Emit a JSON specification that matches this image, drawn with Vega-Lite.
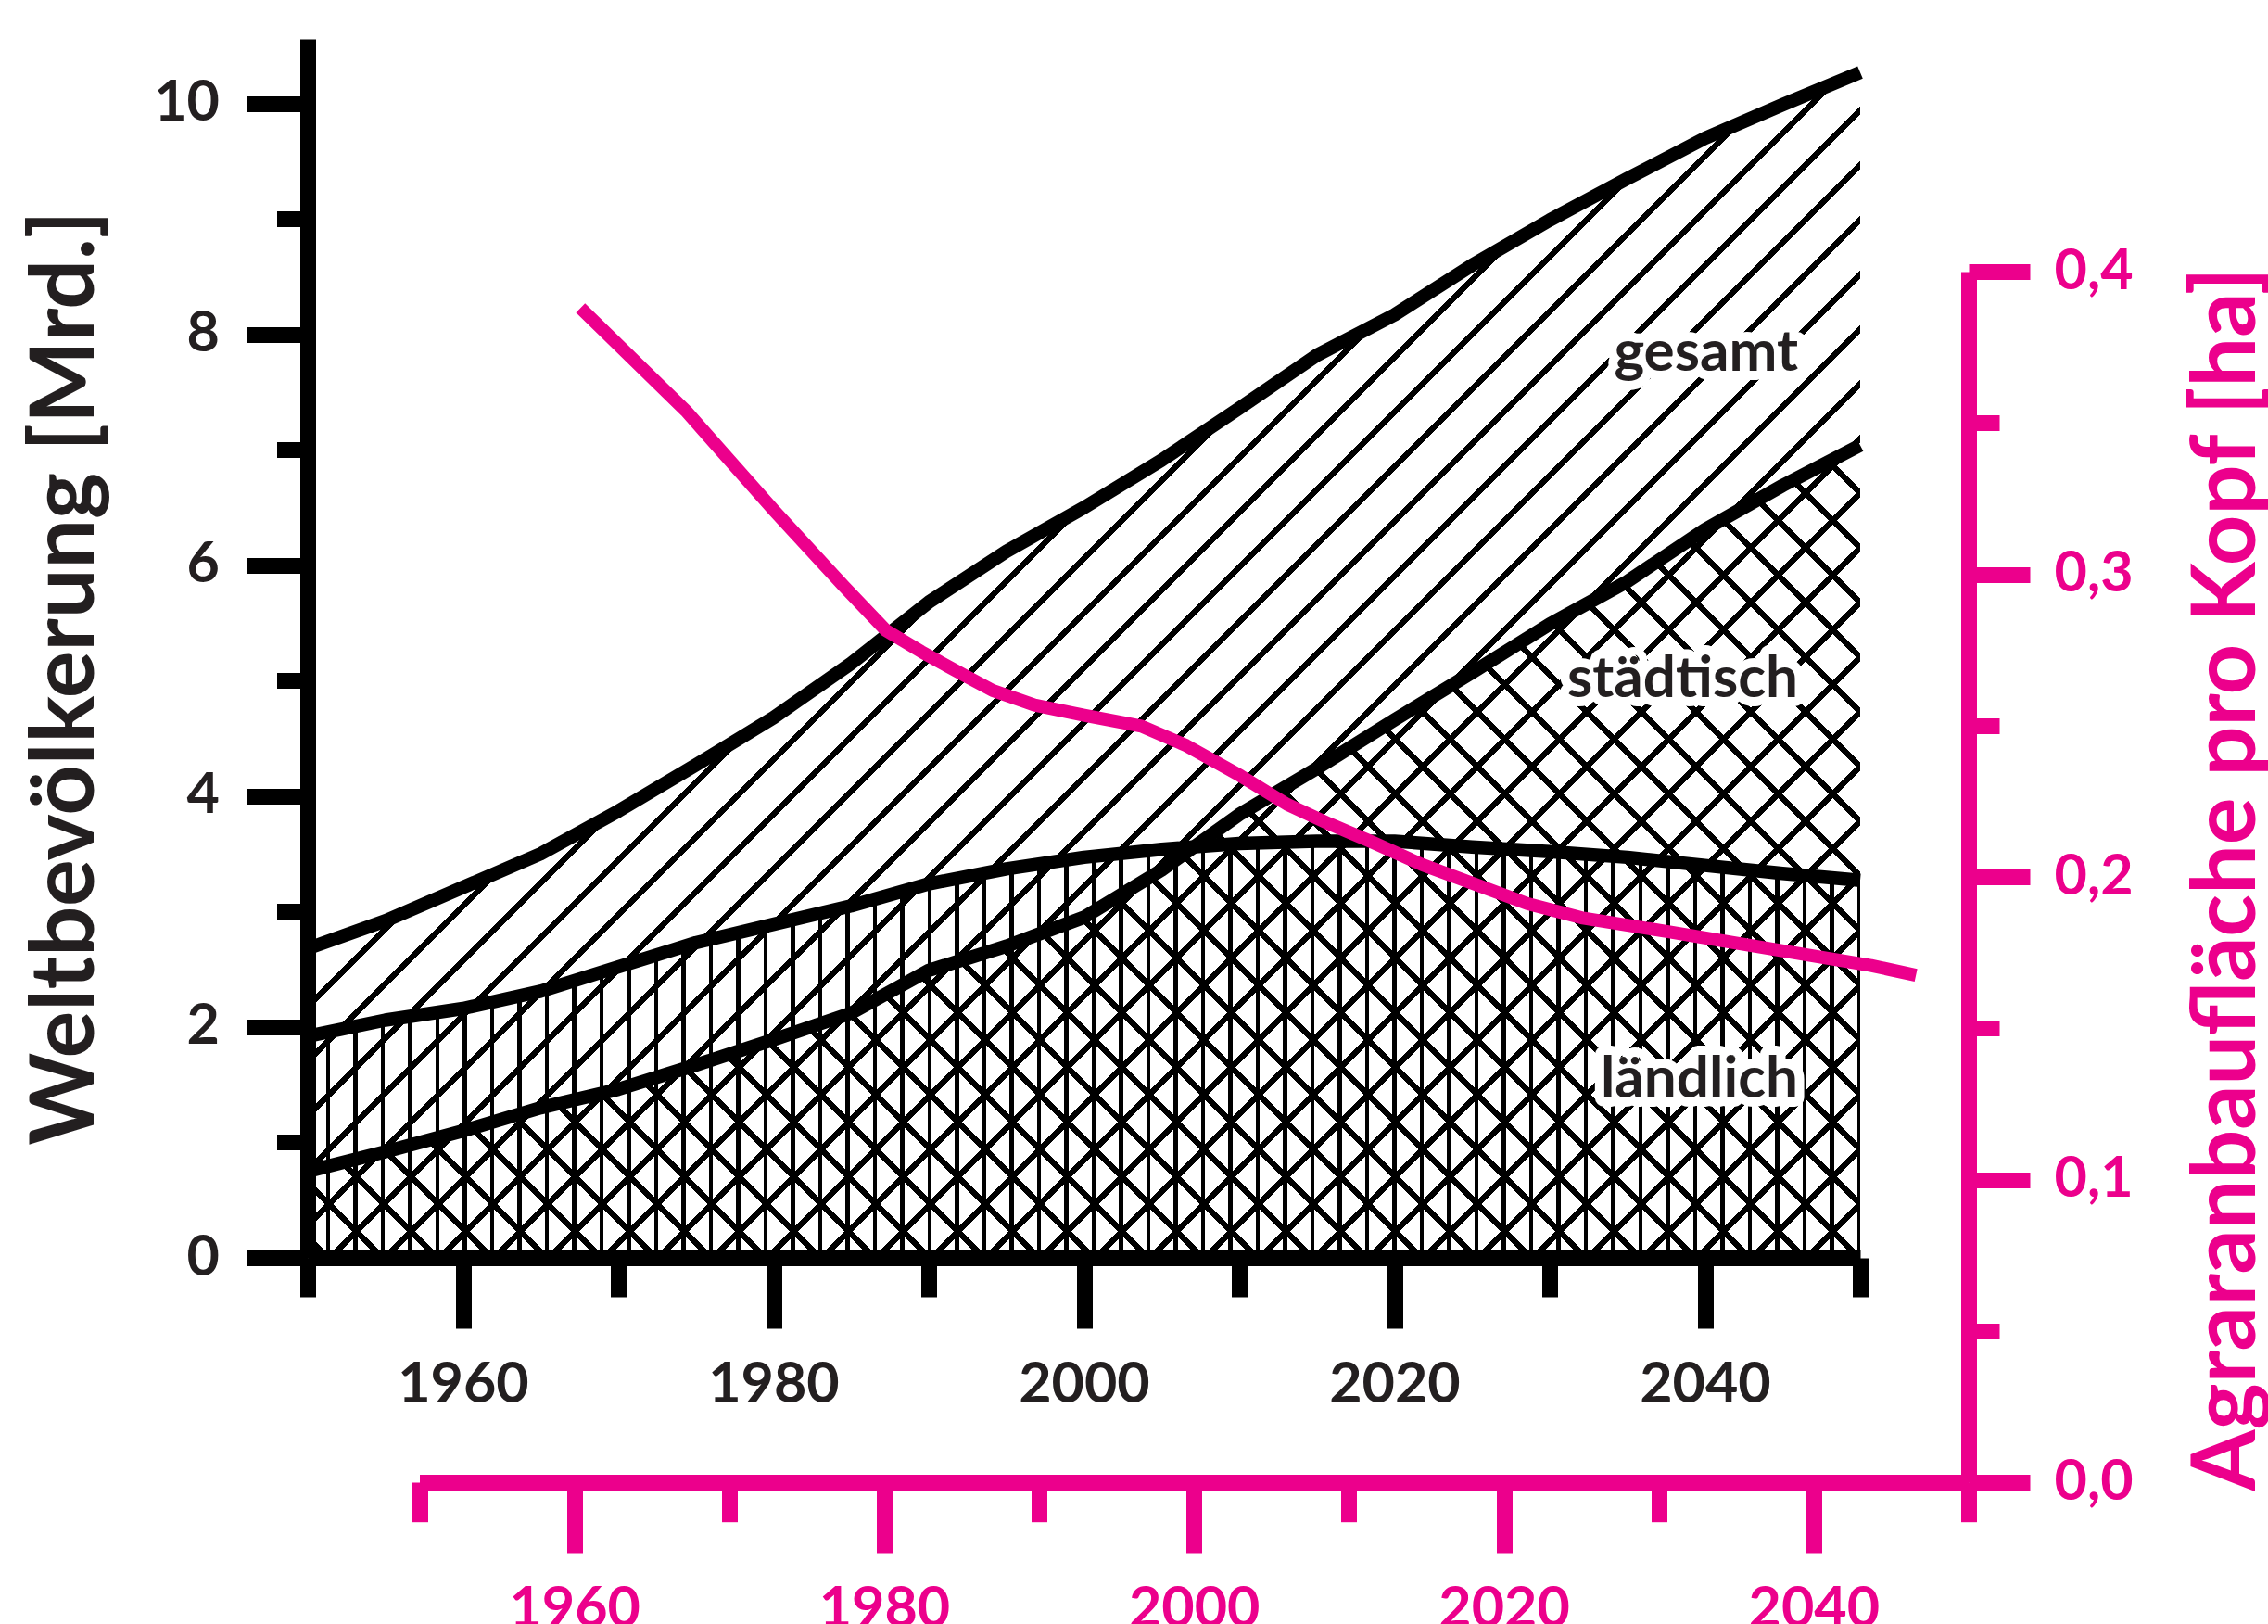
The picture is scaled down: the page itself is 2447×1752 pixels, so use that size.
{
  "$schema": "https://vega.github.io/schema/vega-lite/v6.json",
  "width": 1792,
  "height": 1557,
  "autosize": {"type": "none"},
  "padding": {"left": 332, "top": 42, "right": 323, "bottom": 153},
  "background": "white",
  "config": {
    "view": {"stroke": null},
    "axis": {"grid": false, "labelFont": "Lato", "titleFont": "Lato", "labelFontWeight": "bold", "titleFontWeight": "bold", "labelOverlap": false, "labelFlush": false, "labelBound": false, "zindex": 1, "tickCap": "butt", "domainCap": "butt"}
  },
  "datasets": {
    "pop": [
      {"year": 1950, "gesamt": 2.68, "staedtisch": 0.75, "laendlich": 1.92},
      {"year": 1955, "gesamt": 2.92, "staedtisch": 0.92, "laendlich": 2.06},
      {"year": 1960, "gesamt": 3.21, "staedtisch": 1.10, "laendlich": 2.16},
      {"year": 1965, "gesamt": 3.50, "staedtisch": 1.30, "laendlich": 2.31},
      {"year": 1970, "gesamt": 3.87, "staedtisch": 1.46, "laendlich": 2.52},
      {"year": 1975, "gesamt": 4.27, "staedtisch": 1.67, "laendlich": 2.73},
      {"year": 1980, "gesamt": 4.68, "staedtisch": 1.89, "laendlich": 2.89},
      {"year": 1985, "gesamt": 5.15, "staedtisch": 2.12, "laendlich": 3.05},
      {"year": 1990, "gesamt": 5.68, "staedtisch": 2.49, "laendlich": 3.24},
      {"year": 1995, "gesamt": 6.12, "staedtisch": 2.70, "laendlich": 3.37},
      {"year": 2000, "gesamt": 6.50, "staedtisch": 2.95, "laendlich": 3.47},
      {"year": 2005, "gesamt": 6.91, "staedtisch": 3.36, "laendlich": 3.54},
      {"year": 2010, "gesamt": 7.36, "staedtisch": 3.84, "laendlich": 3.59},
      {"year": 2015, "gesamt": 7.82, "staedtisch": 4.24, "laendlich": 3.61},
      {"year": 2020, "gesamt": 8.17, "staedtisch": 4.66, "laendlich": 3.61},
      {"year": 2025, "gesamt": 8.60, "staedtisch": 5.07, "laendlich": 3.56},
      {"year": 2030, "gesamt": 8.99, "staedtisch": 5.49, "laendlich": 3.52},
      {"year": 2035, "gesamt": 9.35, "staedtisch": 5.86, "laendlich": 3.47},
      {"year": 2040, "gesamt": 9.70, "staedtisch": 6.31, "laendlich": 3.40},
      {"year": 2045, "gesamt": 9.99, "staedtisch": 6.69, "laendlich": 3.33},
      {"year": 2050, "gesamt": 10.27, "staedtisch": 7.04, "laendlich": 3.27}
    ],
    "agrar": [
      {"year": 1960.4, "ha": 0.388},
      {"year": 1967.2, "ha": 0.354},
      {"year": 1972.9, "ha": 0.321},
      {"year": 1977.4, "ha": 0.296},
      {"year": 1980.1, "ha": 0.2815},
      {"year": 1982.4, "ha": 0.2744},
      {"year": 1985.1, "ha": 0.2668},
      {"year": 1987.0, "ha": 0.2616},
      {"year": 1989.7, "ha": 0.2568},
      {"year": 1992.9, "ha": 0.2534},
      {"year": 1996.6, "ha": 0.2498},
      {"year": 1999.5, "ha": 0.2434},
      {"year": 2003.0, "ha": 0.2334},
      {"year": 2006.0, "ha": 0.2240},
      {"year": 2008.7, "ha": 0.2176},
      {"year": 2011.4, "ha": 0.2117},
      {"year": 2014.7, "ha": 0.2041},
      {"year": 2021.5, "ha": 0.1912},
      {"year": 2025.0, "ha": 0.1865},
      {"year": 2030.7, "ha": 0.1818},
      {"year": 2037.5, "ha": 0.1760},
      {"year": 2043.7, "ha": 0.1707},
      {"year": 2046.6, "ha": 0.1675}
    ],
    "labels": [
      {"label": "gesamt", "year": 2046, "v": 7.685},
      {"label": "städtisch", "year": 2046, "v": 4.858},
      {"label": "ländlich", "year": 2046, "v": 1.386}
    ]
  },
  "layer": [
    {
      "data": {"name": "pop"},
      "encoding": {
        "x": {"field": "year", "type": "quantitative",
          "scale": {"domain": [1950, 2050], "range": [0, 1675], "nice": false, "zero": false},
          "axis": null}
      },
      "layer": [
        {
          "mark": {"type": "area", "interpolate": "linear", "fill": {"gradient": "linear", "x1": 0, "y1": 0, "x2": 1.112599, "y2": 0.849487, "stops": [
            {"offset":0,"color":"#000"},{"offset":0.0032,"color":"#000"},{"offset":0.0032,"color":"transparent"},{"offset":0.02,"color":"transparent"},
            {"offset":0.02,"color":"#000"},{"offset":0.0232,"color":"#000"},{"offset":0.0232,"color":"transparent"},{"offset":0.04,"color":"transparent"},
            {"offset":0.04,"color":"#000"},{"offset":0.0432,"color":"#000"},{"offset":0.0432,"color":"transparent"},{"offset":0.06,"color":"transparent"},
            {"offset":0.06,"color":"#000"},{"offset":0.0632,"color":"#000"},{"offset":0.0632,"color":"transparent"},{"offset":0.08,"color":"transparent"},
            {"offset":0.08,"color":"#000"},{"offset":0.0832,"color":"#000"},{"offset":0.0832,"color":"transparent"},{"offset":0.1,"color":"transparent"},
            {"offset":0.1,"color":"#000"},{"offset":0.1032,"color":"#000"},{"offset":0.1032,"color":"transparent"},{"offset":0.12,"color":"transparent"},
            {"offset":0.12,"color":"#000"},{"offset":0.1232,"color":"#000"},{"offset":0.1232,"color":"transparent"},{"offset":0.14,"color":"transparent"},
            {"offset":0.14,"color":"#000"},{"offset":0.1432,"color":"#000"},{"offset":0.1432,"color":"transparent"},{"offset":0.16,"color":"transparent"},
            {"offset":0.16,"color":"#000"},{"offset":0.1632,"color":"#000"},{"offset":0.1632,"color":"transparent"},{"offset":0.18,"color":"transparent"},
            {"offset":0.18,"color":"#000"},{"offset":0.1832,"color":"#000"},{"offset":0.1832,"color":"transparent"},{"offset":0.2,"color":"transparent"},
            {"offset":0.2,"color":"#000"},{"offset":0.2032,"color":"#000"},{"offset":0.2032,"color":"transparent"},{"offset":0.22,"color":"transparent"},
            {"offset":0.22,"color":"#000"},{"offset":0.2232,"color":"#000"},{"offset":0.2232,"color":"transparent"},{"offset":0.24,"color":"transparent"},
            {"offset":0.24,"color":"#000"},{"offset":0.2432,"color":"#000"},{"offset":0.2432,"color":"transparent"},{"offset":0.26,"color":"transparent"},
            {"offset":0.26,"color":"#000"},{"offset":0.2632,"color":"#000"},{"offset":0.2632,"color":"transparent"},{"offset":0.28,"color":"transparent"},
            {"offset":0.28,"color":"#000"},{"offset":0.2832,"color":"#000"},{"offset":0.2832,"color":"transparent"},{"offset":0.3,"color":"transparent"},
            {"offset":0.3,"color":"#000"},{"offset":0.3032,"color":"#000"},{"offset":0.3032,"color":"transparent"},{"offset":0.32,"color":"transparent"},
            {"offset":0.32,"color":"#000"},{"offset":0.3232,"color":"#000"},{"offset":0.3232,"color":"transparent"},{"offset":0.34,"color":"transparent"},
            {"offset":0.34,"color":"#000"},{"offset":0.3432,"color":"#000"},{"offset":0.3432,"color":"transparent"},{"offset":0.36,"color":"transparent"},
            {"offset":0.36,"color":"#000"},{"offset":0.3632,"color":"#000"},{"offset":0.3632,"color":"transparent"},{"offset":0.38,"color":"transparent"},
            {"offset":0.38,"color":"#000"},{"offset":0.3832,"color":"#000"},{"offset":0.3832,"color":"transparent"},{"offset":0.4,"color":"transparent"},
            {"offset":0.4,"color":"#000"},{"offset":0.4032,"color":"#000"},{"offset":0.4032,"color":"transparent"},{"offset":0.42,"color":"transparent"},
            {"offset":0.42,"color":"#000"},{"offset":0.4232,"color":"#000"},{"offset":0.4232,"color":"transparent"},{"offset":0.44,"color":"transparent"},
            {"offset":0.44,"color":"#000"},{"offset":0.4432,"color":"#000"},{"offset":0.4432,"color":"transparent"},{"offset":0.46,"color":"transparent"},
            {"offset":0.46,"color":"#000"},{"offset":0.4632,"color":"#000"},{"offset":0.4632,"color":"transparent"},{"offset":0.48,"color":"transparent"},
            {"offset":0.48,"color":"#000"},{"offset":0.4832,"color":"#000"},{"offset":0.4832,"color":"transparent"},{"offset":0.5,"color":"transparent"},
            {"offset":0.5,"color":"#000"},{"offset":0.5032,"color":"#000"},{"offset":0.5032,"color":"transparent"},{"offset":0.52,"color":"transparent"},
            {"offset":0.52,"color":"#000"},{"offset":0.5232,"color":"#000"},{"offset":0.5232,"color":"transparent"},{"offset":0.54,"color":"transparent"},
            {"offset":0.54,"color":"#000"},{"offset":0.5432,"color":"#000"},{"offset":0.5432,"color":"transparent"},{"offset":0.56,"color":"transparent"},
            {"offset":0.56,"color":"#000"},{"offset":0.5632,"color":"#000"},{"offset":0.5632,"color":"transparent"},{"offset":0.58,"color":"transparent"},
            {"offset":0.58,"color":"#000"},{"offset":0.5832,"color":"#000"},{"offset":0.5832,"color":"transparent"},{"offset":0.6,"color":"transparent"},
            {"offset":0.6,"color":"#000"},{"offset":0.6032,"color":"#000"},{"offset":0.6032,"color":"transparent"},{"offset":0.62,"color":"transparent"},
            {"offset":0.62,"color":"#000"},{"offset":0.6232,"color":"#000"},{"offset":0.6232,"color":"transparent"},{"offset":0.64,"color":"transparent"},
            {"offset":0.64,"color":"#000"},{"offset":0.6432,"color":"#000"},{"offset":0.6432,"color":"transparent"},{"offset":0.66,"color":"transparent"},
            {"offset":0.66,"color":"#000"},{"offset":0.6632,"color":"#000"},{"offset":0.6632,"color":"transparent"},{"offset":0.68,"color":"transparent"},
            {"offset":0.68,"color":"#000"},{"offset":0.6832,"color":"#000"},{"offset":0.6832,"color":"transparent"},{"offset":0.7,"color":"transparent"},
            {"offset":0.7,"color":"#000"},{"offset":0.7032,"color":"#000"},{"offset":0.7032,"color":"transparent"},{"offset":0.72,"color":"transparent"},
            {"offset":0.72,"color":"#000"},{"offset":0.7232,"color":"#000"},{"offset":0.7232,"color":"transparent"},{"offset":0.74,"color":"transparent"},
            {"offset":0.74,"color":"#000"},{"offset":0.7432,"color":"#000"},{"offset":0.7432,"color":"transparent"},{"offset":0.76,"color":"transparent"},
            {"offset":0.76,"color":"#000"},{"offset":0.7632,"color":"#000"},{"offset":0.7632,"color":"transparent"},{"offset":0.78,"color":"transparent"},
            {"offset":0.78,"color":"#000"},{"offset":0.7832,"color":"#000"},{"offset":0.7832,"color":"transparent"},{"offset":0.8,"color":"transparent"},
            {"offset":0.8,"color":"#000"},{"offset":0.8032,"color":"#000"},{"offset":0.8032,"color":"transparent"},{"offset":0.82,"color":"transparent"},
            {"offset":0.82,"color":"#000"},{"offset":0.8232,"color":"#000"},{"offset":0.8232,"color":"transparent"},{"offset":0.84,"color":"transparent"},
            {"offset":0.84,"color":"#000"},{"offset":0.8432,"color":"#000"},{"offset":0.8432,"color":"transparent"},{"offset":0.86,"color":"transparent"},
            {"offset":0.86,"color":"#000"},{"offset":0.8632,"color":"#000"},{"offset":0.8632,"color":"transparent"},{"offset":0.88,"color":"transparent"},
            {"offset":0.88,"color":"#000"},{"offset":0.8832,"color":"#000"},{"offset":0.8832,"color":"transparent"},{"offset":0.9,"color":"transparent"},
            {"offset":0.9,"color":"#000"},{"offset":0.9032,"color":"#000"},{"offset":0.9032,"color":"transparent"},{"offset":0.92,"color":"transparent"},
            {"offset":0.92,"color":"#000"},{"offset":0.9232,"color":"#000"},{"offset":0.9232,"color":"transparent"},{"offset":0.94,"color":"transparent"},
            {"offset":0.94,"color":"#000"},{"offset":0.9432,"color":"#000"},{"offset":0.9432,"color":"transparent"},{"offset":0.96,"color":"transparent"},
            {"offset":0.96,"color":"#000"},{"offset":0.9632,"color":"#000"},{"offset":0.9632,"color":"transparent"},{"offset":0.98,"color":"transparent"},
            {"offset":0.98,"color":"#000"},{"offset":0.9832,"color":"#000"},{"offset":0.9832,"color":"transparent"},{"offset":1,"color":"transparent"}
          ]}},
          "encoding": {"y": {"field": "gesamt", "type": "quantitative", "scale": {"domain": [0, 10.56], "range": [1315, 0], "nice": false, "zero": false}, "axis": null}}
        },
        {
          "mark": {"type": "area", "interpolate": "linear", "fill": {"gradient": "linear", "x1": 0, "y1": 0, "x2": 1.761194, "y2": 0, "stops": [
            {"offset":0,"color":"transparent"},
            {"offset":0.0067,"color":"transparent"},{"offset":0.0067,"color":"#000"},{"offset":0.0082,"color":"#000"},{"offset":0.0082,"color":"transparent"},
            {"offset":0.0167,"color":"transparent"},{"offset":0.0167,"color":"#000"},{"offset":0.0182,"color":"#000"},{"offset":0.0182,"color":"transparent"},
            {"offset":0.0267,"color":"transparent"},{"offset":0.0267,"color":"#000"},{"offset":0.0282,"color":"#000"},{"offset":0.0282,"color":"transparent"},
            {"offset":0.0367,"color":"transparent"},{"offset":0.0367,"color":"#000"},{"offset":0.0382,"color":"#000"},{"offset":0.0382,"color":"transparent"},
            {"offset":0.0467,"color":"transparent"},{"offset":0.0467,"color":"#000"},{"offset":0.0482,"color":"#000"},{"offset":0.0482,"color":"transparent"},
            {"offset":0.0567,"color":"transparent"},{"offset":0.0567,"color":"#000"},{"offset":0.0582,"color":"#000"},{"offset":0.0582,"color":"transparent"},
            {"offset":0.0667,"color":"transparent"},{"offset":0.0667,"color":"#000"},{"offset":0.0682,"color":"#000"},{"offset":0.0682,"color":"transparent"},
            {"offset":0.0767,"color":"transparent"},{"offset":0.0767,"color":"#000"},{"offset":0.0782,"color":"#000"},{"offset":0.0782,"color":"transparent"},
            {"offset":0.0867,"color":"transparent"},{"offset":0.0867,"color":"#000"},{"offset":0.0882,"color":"#000"},{"offset":0.0882,"color":"transparent"},
            {"offset":0.0967,"color":"transparent"},{"offset":0.0967,"color":"#000"},{"offset":0.0982,"color":"#000"},{"offset":0.0982,"color":"transparent"},
            {"offset":0.1067,"color":"transparent"},{"offset":0.1067,"color":"#000"},{"offset":0.1082,"color":"#000"},{"offset":0.1082,"color":"transparent"},
            {"offset":0.1167,"color":"transparent"},{"offset":0.1167,"color":"#000"},{"offset":0.1182,"color":"#000"},{"offset":0.1182,"color":"transparent"},
            {"offset":0.1267,"color":"transparent"},{"offset":0.1267,"color":"#000"},{"offset":0.1282,"color":"#000"},{"offset":0.1282,"color":"transparent"},
            {"offset":0.1367,"color":"transparent"},{"offset":0.1367,"color":"#000"},{"offset":0.1382,"color":"#000"},{"offset":0.1382,"color":"transparent"},
            {"offset":0.1467,"color":"transparent"},{"offset":0.1467,"color":"#000"},{"offset":0.1482,"color":"#000"},{"offset":0.1482,"color":"transparent"},
            {"offset":0.1567,"color":"transparent"},{"offset":0.1567,"color":"#000"},{"offset":0.1582,"color":"#000"},{"offset":0.1582,"color":"transparent"},
            {"offset":0.1667,"color":"transparent"},{"offset":0.1667,"color":"#000"},{"offset":0.1682,"color":"#000"},{"offset":0.1682,"color":"transparent"},
            {"offset":0.1767,"color":"transparent"},{"offset":0.1767,"color":"#000"},{"offset":0.1782,"color":"#000"},{"offset":0.1782,"color":"transparent"},
            {"offset":0.1867,"color":"transparent"},{"offset":0.1867,"color":"#000"},{"offset":0.1882,"color":"#000"},{"offset":0.1882,"color":"transparent"},
            {"offset":0.1967,"color":"transparent"},{"offset":0.1967,"color":"#000"},{"offset":0.1982,"color":"#000"},{"offset":0.1982,"color":"transparent"},
            {"offset":0.2067,"color":"transparent"},{"offset":0.2067,"color":"#000"},{"offset":0.2082,"color":"#000"},{"offset":0.2082,"color":"transparent"},
            {"offset":0.2167,"color":"transparent"},{"offset":0.2167,"color":"#000"},{"offset":0.2182,"color":"#000"},{"offset":0.2182,"color":"transparent"},
            {"offset":0.2267,"color":"transparent"},{"offset":0.2267,"color":"#000"},{"offset":0.2282,"color":"#000"},{"offset":0.2282,"color":"transparent"},
            {"offset":0.2367,"color":"transparent"},{"offset":0.2367,"color":"#000"},{"offset":0.2382,"color":"#000"},{"offset":0.2382,"color":"transparent"},
            {"offset":0.2467,"color":"transparent"},{"offset":0.2467,"color":"#000"},{"offset":0.2482,"color":"#000"},{"offset":0.2482,"color":"transparent"},
            {"offset":0.2567,"color":"transparent"},{"offset":0.2567,"color":"#000"},{"offset":0.2582,"color":"#000"},{"offset":0.2582,"color":"transparent"},
            {"offset":0.2667,"color":"transparent"},{"offset":0.2667,"color":"#000"},{"offset":0.2682,"color":"#000"},{"offset":0.2682,"color":"transparent"},
            {"offset":0.2767,"color":"transparent"},{"offset":0.2767,"color":"#000"},{"offset":0.2782,"color":"#000"},{"offset":0.2782,"color":"transparent"},
            {"offset":0.2867,"color":"transparent"},{"offset":0.2867,"color":"#000"},{"offset":0.2882,"color":"#000"},{"offset":0.2882,"color":"transparent"},
            {"offset":0.2967,"color":"transparent"},{"offset":0.2967,"color":"#000"},{"offset":0.2982,"color":"#000"},{"offset":0.2982,"color":"transparent"},
            {"offset":0.3067,"color":"transparent"},{"offset":0.3067,"color":"#000"},{"offset":0.3082,"color":"#000"},{"offset":0.3082,"color":"transparent"},
            {"offset":0.3167,"color":"transparent"},{"offset":0.3167,"color":"#000"},{"offset":0.3182,"color":"#000"},{"offset":0.3182,"color":"transparent"},
            {"offset":0.3267,"color":"transparent"},{"offset":0.3267,"color":"#000"},{"offset":0.3282,"color":"#000"},{"offset":0.3282,"color":"transparent"},
            {"offset":0.3367,"color":"transparent"},{"offset":0.3367,"color":"#000"},{"offset":0.3382,"color":"#000"},{"offset":0.3382,"color":"transparent"},
            {"offset":0.3467,"color":"transparent"},{"offset":0.3467,"color":"#000"},{"offset":0.3482,"color":"#000"},{"offset":0.3482,"color":"transparent"},
            {"offset":0.3567,"color":"transparent"},{"offset":0.3567,"color":"#000"},{"offset":0.3582,"color":"#000"},{"offset":0.3582,"color":"transparent"},
            {"offset":0.3667,"color":"transparent"},{"offset":0.3667,"color":"#000"},{"offset":0.3682,"color":"#000"},{"offset":0.3682,"color":"transparent"},
            {"offset":0.3767,"color":"transparent"},{"offset":0.3767,"color":"#000"},{"offset":0.3782,"color":"#000"},{"offset":0.3782,"color":"transparent"},
            {"offset":0.3867,"color":"transparent"},{"offset":0.3867,"color":"#000"},{"offset":0.3882,"color":"#000"},{"offset":0.3882,"color":"transparent"},
            {"offset":0.3967,"color":"transparent"},{"offset":0.3967,"color":"#000"},{"offset":0.3982,"color":"#000"},{"offset":0.3982,"color":"transparent"},
            {"offset":0.4067,"color":"transparent"},{"offset":0.4067,"color":"#000"},{"offset":0.4082,"color":"#000"},{"offset":0.4082,"color":"transparent"},
            {"offset":0.4167,"color":"transparent"},{"offset":0.4167,"color":"#000"},{"offset":0.4182,"color":"#000"},{"offset":0.4182,"color":"transparent"},
            {"offset":0.4267,"color":"transparent"},{"offset":0.4267,"color":"#000"},{"offset":0.4282,"color":"#000"},{"offset":0.4282,"color":"transparent"},
            {"offset":0.4367,"color":"transparent"},{"offset":0.4367,"color":"#000"},{"offset":0.4382,"color":"#000"},{"offset":0.4382,"color":"transparent"},
            {"offset":0.4467,"color":"transparent"},{"offset":0.4467,"color":"#000"},{"offset":0.4482,"color":"#000"},{"offset":0.4482,"color":"transparent"},
            {"offset":0.4567,"color":"transparent"},{"offset":0.4567,"color":"#000"},{"offset":0.4582,"color":"#000"},{"offset":0.4582,"color":"transparent"},
            {"offset":0.4667,"color":"transparent"},{"offset":0.4667,"color":"#000"},{"offset":0.4682,"color":"#000"},{"offset":0.4682,"color":"transparent"},
            {"offset":0.4767,"color":"transparent"},{"offset":0.4767,"color":"#000"},{"offset":0.4782,"color":"#000"},{"offset":0.4782,"color":"transparent"},
            {"offset":0.4867,"color":"transparent"},{"offset":0.4867,"color":"#000"},{"offset":0.4882,"color":"#000"},{"offset":0.4882,"color":"transparent"},
            {"offset":0.4967,"color":"transparent"},{"offset":0.4967,"color":"#000"},{"offset":0.4982,"color":"#000"},{"offset":0.4982,"color":"transparent"},
            {"offset":0.5067,"color":"transparent"},{"offset":0.5067,"color":"#000"},{"offset":0.5082,"color":"#000"},{"offset":0.5082,"color":"transparent"},
            {"offset":0.5167,"color":"transparent"},{"offset":0.5167,"color":"#000"},{"offset":0.5182,"color":"#000"},{"offset":0.5182,"color":"transparent"},
            {"offset":0.5267,"color":"transparent"},{"offset":0.5267,"color":"#000"},{"offset":0.5282,"color":"#000"},{"offset":0.5282,"color":"transparent"},
            {"offset":0.5367,"color":"transparent"},{"offset":0.5367,"color":"#000"},{"offset":0.5382,"color":"#000"},{"offset":0.5382,"color":"transparent"},
            {"offset":0.5467,"color":"transparent"},{"offset":0.5467,"color":"#000"},{"offset":0.5482,"color":"#000"},{"offset":0.5482,"color":"transparent"},
            {"offset":0.5567,"color":"transparent"},{"offset":0.5567,"color":"#000"},{"offset":0.5582,"color":"#000"},{"offset":0.5582,"color":"transparent"},
            {"offset":0.5667,"color":"transparent"},{"offset":0.5667,"color":"#000"},{"offset":0.5682,"color":"#000"},{"offset":0.5682,"color":"transparent"}
          ]}},
          "encoding": {"y": {"field": "laendlich", "type": "quantitative", "scale": {"domain": [0, 10.56], "range": [1315, 0], "nice": false, "zero": false}, "axis": null}}
        },
        {
          "mark": {"type": "area", "interpolate": "linear", "fill": {"gradient": "linear", "x1": 0, "y1": 1, "x2": 1.382478, "y2": 0.276432, "stops": [
            {"offset":0,"color":"transparent"},
            {"offset":0.0058,"color":"transparent"},{"offset":0.0058,"color":"#000"},{"offset":0.009,"color":"#000"},{"offset":0.009,"color":"transparent"},
            {"offset":0.0258,"color":"transparent"},{"offset":0.0258,"color":"#000"},{"offset":0.029,"color":"#000"},{"offset":0.029,"color":"transparent"},
            {"offset":0.0458,"color":"transparent"},{"offset":0.0458,"color":"#000"},{"offset":0.049,"color":"#000"},{"offset":0.049,"color":"transparent"},
            {"offset":0.0658,"color":"transparent"},{"offset":0.0658,"color":"#000"},{"offset":0.069,"color":"#000"},{"offset":0.069,"color":"transparent"},
            {"offset":0.0858,"color":"transparent"},{"offset":0.0858,"color":"#000"},{"offset":0.089,"color":"#000"},{"offset":0.089,"color":"transparent"},
            {"offset":0.1058,"color":"transparent"},{"offset":0.1058,"color":"#000"},{"offset":0.109,"color":"#000"},{"offset":0.109,"color":"transparent"},
            {"offset":0.1258,"color":"transparent"},{"offset":0.1258,"color":"#000"},{"offset":0.129,"color":"#000"},{"offset":0.129,"color":"transparent"},
            {"offset":0.1458,"color":"transparent"},{"offset":0.1458,"color":"#000"},{"offset":0.149,"color":"#000"},{"offset":0.149,"color":"transparent"},
            {"offset":0.1658,"color":"transparent"},{"offset":0.1658,"color":"#000"},{"offset":0.169,"color":"#000"},{"offset":0.169,"color":"transparent"},
            {"offset":0.1858,"color":"transparent"},{"offset":0.1858,"color":"#000"},{"offset":0.189,"color":"#000"},{"offset":0.189,"color":"transparent"},
            {"offset":0.2058,"color":"transparent"},{"offset":0.2058,"color":"#000"},{"offset":0.209,"color":"#000"},{"offset":0.209,"color":"transparent"},
            {"offset":0.2258,"color":"transparent"},{"offset":0.2258,"color":"#000"},{"offset":0.229,"color":"#000"},{"offset":0.229,"color":"transparent"},
            {"offset":0.2458,"color":"transparent"},{"offset":0.2458,"color":"#000"},{"offset":0.249,"color":"#000"},{"offset":0.249,"color":"transparent"},
            {"offset":0.2658,"color":"transparent"},{"offset":0.2658,"color":"#000"},{"offset":0.269,"color":"#000"},{"offset":0.269,"color":"transparent"},
            {"offset":0.2858,"color":"transparent"},{"offset":0.2858,"color":"#000"},{"offset":0.289,"color":"#000"},{"offset":0.289,"color":"transparent"},
            {"offset":0.3058,"color":"transparent"},{"offset":0.3058,"color":"#000"},{"offset":0.309,"color":"#000"},{"offset":0.309,"color":"transparent"},
            {"offset":0.3258,"color":"transparent"},{"offset":0.3258,"color":"#000"},{"offset":0.329,"color":"#000"},{"offset":0.329,"color":"transparent"},
            {"offset":0.3458,"color":"transparent"},{"offset":0.3458,"color":"#000"},{"offset":0.349,"color":"#000"},{"offset":0.349,"color":"transparent"},
            {"offset":0.3658,"color":"transparent"},{"offset":0.3658,"color":"#000"},{"offset":0.369,"color":"#000"},{"offset":0.369,"color":"transparent"},
            {"offset":0.3858,"color":"transparent"},{"offset":0.3858,"color":"#000"},{"offset":0.389,"color":"#000"},{"offset":0.389,"color":"transparent"},
            {"offset":0.4058,"color":"transparent"},{"offset":0.4058,"color":"#000"},{"offset":0.409,"color":"#000"},{"offset":0.409,"color":"transparent"},
            {"offset":0.4258,"color":"transparent"},{"offset":0.4258,"color":"#000"},{"offset":0.429,"color":"#000"},{"offset":0.429,"color":"transparent"},
            {"offset":0.4458,"color":"transparent"},{"offset":0.4458,"color":"#000"},{"offset":0.449,"color":"#000"},{"offset":0.449,"color":"transparent"},
            {"offset":0.4658,"color":"transparent"},{"offset":0.4658,"color":"#000"},{"offset":0.469,"color":"#000"},{"offset":0.469,"color":"transparent"},
            {"offset":0.4858,"color":"transparent"},{"offset":0.4858,"color":"#000"},{"offset":0.489,"color":"#000"},{"offset":0.489,"color":"transparent"},
            {"offset":0.5058,"color":"transparent"},{"offset":0.5058,"color":"#000"},{"offset":0.509,"color":"#000"},{"offset":0.509,"color":"transparent"},
            {"offset":0.5258,"color":"transparent"},{"offset":0.5258,"color":"#000"},{"offset":0.529,"color":"#000"},{"offset":0.529,"color":"transparent"},
            {"offset":0.5458,"color":"transparent"},{"offset":0.5458,"color":"#000"},{"offset":0.549,"color":"#000"},{"offset":0.549,"color":"transparent"},
            {"offset":0.5658,"color":"transparent"},{"offset":0.5658,"color":"#000"},{"offset":0.569,"color":"#000"},{"offset":0.569,"color":"transparent"},
            {"offset":0.5858,"color":"transparent"},{"offset":0.5858,"color":"#000"},{"offset":0.589,"color":"#000"},{"offset":0.589,"color":"transparent"},
            {"offset":0.6058,"color":"transparent"},{"offset":0.6058,"color":"#000"},{"offset":0.609,"color":"#000"},{"offset":0.609,"color":"transparent"},
            {"offset":0.6258,"color":"transparent"},{"offset":0.6258,"color":"#000"},{"offset":0.629,"color":"#000"},{"offset":0.629,"color":"transparent"},
            {"offset":0.6458,"color":"transparent"},{"offset":0.6458,"color":"#000"},{"offset":0.649,"color":"#000"},{"offset":0.649,"color":"transparent"},
            {"offset":0.6658,"color":"transparent"},{"offset":0.6658,"color":"#000"},{"offset":0.669,"color":"#000"},{"offset":0.669,"color":"transparent"},
            {"offset":0.6858,"color":"transparent"},{"offset":0.6858,"color":"#000"},{"offset":0.689,"color":"#000"},{"offset":0.689,"color":"transparent"},
            {"offset":0.7058,"color":"transparent"},{"offset":0.7058,"color":"#000"},{"offset":0.709,"color":"#000"},{"offset":0.709,"color":"transparent"},
            {"offset":0.7258,"color":"transparent"},{"offset":0.7258,"color":"#000"},{"offset":0.729,"color":"#000"},{"offset":0.729,"color":"transparent"},
            {"offset":0.7458,"color":"transparent"},{"offset":0.7458,"color":"#000"},{"offset":0.749,"color":"#000"},{"offset":0.749,"color":"transparent"},
            {"offset":0.7658,"color":"transparent"},{"offset":0.7658,"color":"#000"},{"offset":0.769,"color":"#000"},{"offset":0.769,"color":"transparent"},
            {"offset":0.7858,"color":"transparent"},{"offset":0.7858,"color":"#000"},{"offset":0.789,"color":"#000"},{"offset":0.789,"color":"transparent"},
            {"offset":0.8058,"color":"transparent"},{"offset":0.8058,"color":"#000"},{"offset":0.809,"color":"#000"},{"offset":0.809,"color":"transparent"},
            {"offset":0.8258,"color":"transparent"},{"offset":0.8258,"color":"#000"},{"offset":0.829,"color":"#000"},{"offset":0.829,"color":"transparent"},
            {"offset":0.8458,"color":"transparent"},{"offset":0.8458,"color":"#000"},{"offset":0.849,"color":"#000"},{"offset":0.849,"color":"transparent"},
            {"offset":0.8658,"color":"transparent"},{"offset":0.8658,"color":"#000"},{"offset":0.869,"color":"#000"},{"offset":0.869,"color":"transparent"}
          ]}},
          "encoding": {"y": {"field": "staedtisch", "type": "quantitative", "scale": {"domain": [0, 10.56], "range": [1315, 0], "nice": false, "zero": false}, "axis": null}}
        },
        {
          "mark": {"type": "line", "color": "#000", "strokeWidth": 14.5, "strokeCap": "butt", "strokeJoin": "round"},
          "encoding": {"y": {"field": "gesamt", "type": "quantitative", "scale": {"domain": [0, 10.56], "range": [1315, 0], "nice": false, "zero": false}, "axis": null}}
        },
        {
          "mark": {"type": "line", "color": "#000", "strokeWidth": 14.5, "strokeCap": "butt", "strokeJoin": "round"},
          "encoding": {"y": {"field": "laendlich", "type": "quantitative", "scale": {"domain": [0, 10.56], "range": [1315, 0], "nice": false, "zero": false}, "axis": null}}
        },
        {
          "mark": {"type": "line", "color": "#000", "strokeWidth": 14.5, "strokeCap": "butt", "strokeJoin": "round"},
          "encoding": {"y": {"field": "staedtisch", "type": "quantitative", "scale": {"domain": [0, 10.56], "range": [1315, 0], "nice": false, "zero": false}, "axis": null}}
        }
      ]
    },
    {
      "data": {"name": "labels"},
      "encoding": {
        "x": {"field": "year", "type": "quantitative",
          "scale": {"domain": [1950, 2050], "range": [0, 1675], "nice": false, "zero": false},
          "axis": {"orient": "bottom", "offset": -242, "values": [1960, 1980, 2000, 2020, 2040], "format": "d", "title": null, "domainColor": "#000", "domainWidth": 17, "tickColor": "#000", "tickWidth": 17, "tickSize": 76, "labelFontSize": 61, "labelColor": "#231f20", "labelPadding": 31}},
        "y": {"field": "v", "type": "quantitative",
          "scale": {"domain": [0, 10.56], "range": [1315, 0], "nice": false, "zero": false},
          "axis": {"orient": "left", "values": [0, 2, 4, 6, 8, 10], "title": "Weltbevölkerung [Mrd.]", "titleColor": "#231f20", "titleFontSize": 95, "titleAngle": 270, "titleBaseline": "alphabetic", "titleAlign": "center", "titleX": -232, "titleY": 689, "domainColor": "#000", "domainWidth": 17, "tickColor": "#000", "tickWidth": 17, "tickSize": 66.5, "labelFontSize": 61, "labelColor": "#231f20", "labelPadding": 29}},
        "text": {"field": "label", "type": "nominal"}
      },
      "layer": [
        {"mark": {"type": "text", "align": "right", "baseline": "alphabetic", "font": "Lato", "fontWeight": "bold", "fontSize": 62, "fill": "white", "stroke": "white", "strokeWidth": 20, "strokeJoin": "round"}},
        {"mark": {"type": "text", "align": "right", "baseline": "alphabetic", "font": "Lato", "fontWeight": "bold", "fontSize": 62, "fill": "#231f20"}}
      ]
    },
    {
      "data": {"name": "pop"},
      "mark": {"type": "line", "opacity": 0},
      "encoding": {
        "x": {"field": "year", "type": "quantitative",
          "scale": {"domain": [1950, 2050], "range": [0, 1675], "nice": false, "zero": false},
          "axis": {"orient": "bottom", "offset": -242, "values": [1950, 1970, 1990, 2010, 2030, 2050], "labels": false, "domain": false, "title": null, "tickColor": "#000", "tickWidth": 17, "tickSize": 42}},
        "y": {"field": "gesamt", "type": "quantitative",
          "scale": {"domain": [0, 10.56], "range": [1315, 0], "nice": false, "zero": false},
          "axis": {"orient": "left", "values": [1, 3, 5, 7, 9], "labels": false, "domain": false, "title": null, "tickColor": "#000", "tickWidth": 17, "tickSize": 33.5}}
      }
    },
    {
      "data": {"name": "agrar"},
      "mark": {"type": "line", "color": "#ec008c", "strokeWidth": 14, "strokeCap": "butt", "strokeJoin": "round"},
      "encoding": {
        "x": {"field": "year", "type": "quantitative",
          "scale": {"domain": [1950, 2050], "range": [120.5, 1792], "nice": false, "zero": false},
          "axis": {"orient": "bottom", "offset": 0, "values": [1960, 1980, 2000, 2020, 2040], "format": "d", "title": null, "domainColor": "#ec008c", "domainWidth": 17, "tickColor": "#ec008c", "tickWidth": 17, "tickSize": 76, "labelFontSize": 61, "labelColor": "#ec008c", "labelPadding": 31}},
        "y": {"field": "ha", "type": "quantitative",
          "scale": {"domain": [0, 0.4], "range": [1557, 251], "nice": false, "zero": false},
          "axis": {"orient": "right", "values": [0, 0.1, 0.2, 0.3, 0.4], "labelExpr": "replace(format(datum.value, '.1f'), '.', ',')", "title": "Agraranbaufläche pro Kopf [ha]", "titleColor": "#ec008c", "titleFontSize": 95, "titleAngle": 270, "titleBaseline": "alphabetic", "titleAlign": "center", "titleX": 308, "titleY": 906, "domainColor": "#ec008c", "domainWidth": 17, "tickColor": "#ec008c", "tickWidth": 17, "tickSize": 66, "labelFontSize": 61, "labelColor": "#ec008c", "labelPadding": 26}}
      }
    },
    {
      "data": {"name": "agrar"},
      "mark": {"type": "line", "opacity": 0},
      "encoding": {
        "x": {"field": "year", "type": "quantitative",
          "scale": {"domain": [1950, 2050], "range": [120.5, 1792], "nice": false, "zero": false},
          "axis": {"orient": "bottom", "offset": 0, "values": [1950, 1970, 1990, 2010, 2030, 2050], "labels": false, "domain": false, "title": null, "tickColor": "#ec008c", "tickWidth": 17, "tickSize": 42.7}},
        "y": {"field": "ha", "type": "quantitative",
          "scale": {"domain": [0, 0.4], "range": [1557, 251], "nice": false, "zero": false},
          "axis": {"orient": "right", "values": [0.05, 0.15, 0.25, 0.35], "labels": false, "domain": false, "title": null, "tickColor": "#ec008c", "tickWidth": 17, "tickSize": 33}}
      }
    }
  ],
  "resolve": {"scale": {"x": "independent", "y": "independent"}, "axis": {"x": "independent", "y": "independent"}}
}
